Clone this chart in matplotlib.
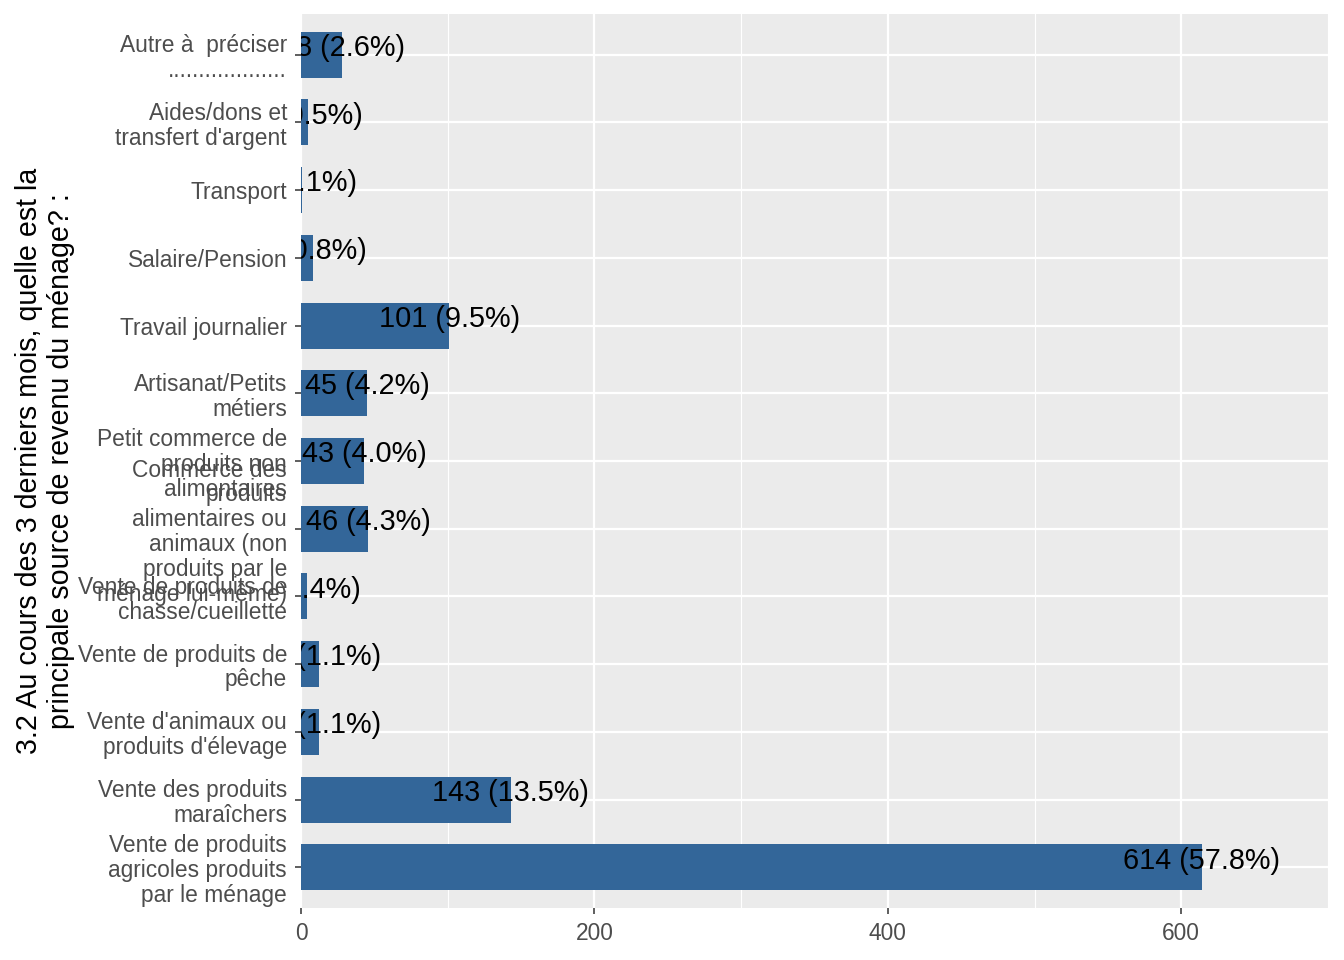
import numpy as np
import matplotlib.pyplot as plt

plt.rcParams['font.family'] = ['Liberation Sans', 'DejaVu Sans']

# categories from bottom to top
categories = [
    "Vente de produits\nagricoles produits\npar le ménage",
    "Vente des produits\nmaraîchers",
    "Vente d'animaux ou\nproduits d'élevage",
    "Vente de produits de\npêche",
    "Vente de produits de\nchasse/cueillette",
    "Commerce des\nproduits\nalimentaires ou\nanimaux (non\nproduits par le\nménage lui-même)",
    "Petit commerce de\nproduits non\nalimentaires",
    "Artisanat/Petits\nmétiers",
    "Travail journalier",
    "Salaire/Pension",
    "Transport",
    "Aides/dons et\ntransfert d'argent",
    "Autre à  préciser\n...................",
]
counts = [614, 143, 12, 12, 4, 46, 43, 45, 101, 8, 1, 5, 28]

total = sum(counts)
y = np.arange(len(categories))

fig = plt.figure(figsize=(13.44, 9.6), dpi=100)
ax = fig.add_axes([301/1344, 1-908/960, (1328-301)/1344, (908-14)/960])
ax.set_facecolor('#EBEBEB')

ax.barh(y, counts, height=0.68, color='#336699', zorder=3)

for yi, v in zip(y, counts):
    ax.text(v, yi + 0.1, f"{v} ({v/total*100:.1f}%)", ha='center', va='center',
            fontsize=20.8, color='black', zorder=4, clip_on=True)

ax.set_xlim(0, 699)
ax.set_ylim(-0.6, len(categories) - 0.4)
ax.set_xticks([0, 200, 400, 600])
ax.set_xticks([100, 300, 500, 700], minor=True)
ax.set_yticks(y)
ax.set_yticklabels(categories, linespacing=1.1)

ax.grid(which='major', color='white', linewidth=1.6, zorder=1)
ax.grid(which='minor', axis='x', color='white', linewidth=0.8, zorder=1)
ax.tick_params(axis='both', which='major', labelsize=16.4, labelcolor='#4D4D4D',
               color='#333333', length=4, width=1.1, pad=6)
ax.tick_params(which='minor', length=0)
for s in ax.spines.values():
    s.set_visible(False)

fig.text(45/1344, 1 - 461/960,
         "3.2 Au cours des 3 derniers mois, quelle est la\nprincipale source de revenu du ménage? :",
         rotation=90, ha='center', va='center', multialignment='center',
         fontsize=20.6, color='black', linespacing=1.2)

fig.savefig('out.png', dpi=100)
